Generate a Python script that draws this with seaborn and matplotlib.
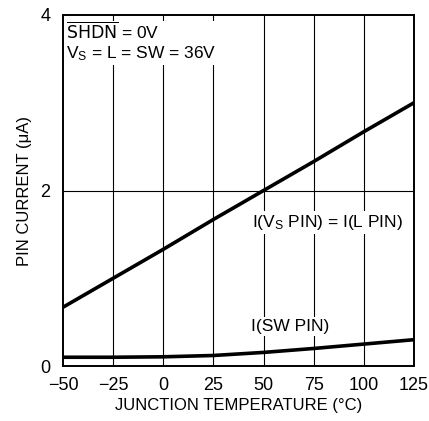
import numpy as np
import pandas as pd
import seaborn as sns
import matplotlib
matplotlib.use("Agg")
import matplotlib.pyplot as plt

# temperatures (C) and pin currents (uA)
temp = [-50, -25, 0, 25, 50, 75, 100, 125]
i_vs_pin = [0.67, 1.00, 1.33, 1.67, 2.00, 2.33, 2.67, 3.00]
i_sw_pin = [0.10, 0.10, 0.105, 0.12, 0.155, 0.20, 0.25, 0.30]

x_ticks = [-50, -25, 0, 25, 50, 75, 100, 125]
x_tick_labels = ["\u221250", "\u221225", "0", "25", "50", "75", "100", "125"]
y_ticks = [0, 2, 4]

sns.set_style("white")
plt.rcParams['font.family'] = ['Liberation Sans', 'DejaVu Sans']
plt.rcParams['mathtext.default'] = 'regular'
plt.rcParams['text.color'] = 'black'
plt.rcParams['axes.labelcolor'] = 'black'

tabela = pd.DataFrame({'temp': temp, 'vs': i_vs_pin, 'sw': i_sw_pin})

fig = plt.figure(figsize=(4.29, 4.21), dpi=100)
ax = fig.add_axes([0.1469, 0.1306, 0.8181, 0.8338])

ax.set_xlim(-50, 125)
ax.set_ylim(0, 4)
ax.set_xticks(x_ticks)
ax.set_xticklabels(x_tick_labels)
ax.set_yticks(y_ticks)
ax.tick_params(length=0, labelsize=13, colors='black')
ax.tick_params(axis='x', pad=8)
ax.tick_params(axis='y', pad=9)

for xv in x_ticks[1:-1]:
    ax.axvline(xv, color='black', lw=0.8, zorder=1)
ax.axhline(2, color='black', lw=0.8, zorder=1)

sns.lineplot(data=tabela, x='temp', y='vs', ax=ax, color='black', lw=2.6, zorder=3)
sns.lineplot(data=tabela, x='temp', y='sw', ax=ax, color='black', lw=2.6, zorder=3)

for s in ax.spines.values():
    s.set_color('black')
    s.set_linewidth(1.4)

ax.set_xlabel("JUNCTION TEMPERATURE (\u00b0C)", fontsize=12, labelpad=3)
ax.set_ylabel("PIN CURRENT (\u03bcA)", fontsize=12, labelpad=6)

box = dict(facecolor='white', edgecolor='none', pad=1.5)
ax.text(-48.5, 3.93, r"$\overline{\rm SHDN}$ = 0V" + "\n" + r"$V_S$ = L = SW = 36V",
        fontsize=12.5, va='top', ha='left', bbox=box, zorder=4, linespacing=1.1)
ax.text(82, 1.64, r"I($V_S$ PIN) = I(L PIN)", fontsize=12.5, ha='center', va='center',
        bbox=box, zorder=4)
ax.text(63, 0.45, "I(SW PIN)", fontsize=12.5, ha='center', va='center',
        bbox=box, zorder=4)

fig.savefig("out.png", dpi=100)
